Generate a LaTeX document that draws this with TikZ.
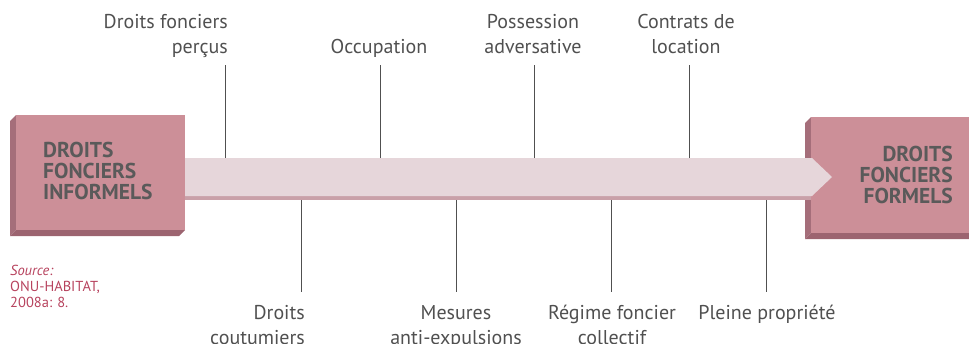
\documentclass[tikz,border=0pt]{standalone}
\usepackage{fontspec}
\setmainfont{PT Sans}
\definecolor{boxface}{HTML}{CC8F98}
\definecolor{boxside}{HTML}{A56E7A}
\definecolor{boxbottom}{HTML}{9C6470}
\definecolor{bandtop}{HTML}{E6D6DA}
\definecolor{bandlow}{HTML}{C9A0A8}
\definecolor{labelgray}{HTML}{505050}
\definecolor{boxgray}{HTML}{5A5A5A}
\definecolor{sourcered}{HTML}{B7435E}

\begin{document}
\begin{tikzpicture}[x=1pt,y=-1pt,
  lbl/.style={text=labelgray,font=\fontsize{20}{25}\selectfont,inner sep=0pt,text depth=0pt},
  boxtxt/.style={text=boxgray,font=\fontsize{21.5}{21}\selectfont\bfseries,inner sep=0pt},
  tick/.style={draw=labelgray,line width=0.9pt}]
  \useasboundingbox (0,0) rectangle (969,343);

  % left box
  \fill[boxside] (16,115) -- (10,121) -- (10,236) -- (16,230) -- cycle;
  \fill[boxbottom] (10,236) -- (179,236) -- (185,230) -- (16,230) -- cycle;
  \fill[boxface] (16,115) rectangle (185,230);
  \node[boxtxt,anchor=north west,align=left] (informels) at (43,142) {DROITS\\FONCIERS\\INFORMELS};

  % right box
  \fill[boxside] (811,117) -- (805,123) -- (805,239) -- (811,233) -- cycle;
  \fill[boxbottom] (805,239) -- (969,239) -- (969,233) -- (811,233) -- cycle;
  \fill[boxface] (811,117) rectangle (969,233);
  \node[boxtxt,anchor=north east,align=right] (formels) at (953,146) {DROITS\\FONCIERS\\FORMELS};

  % band
  \fill[bandlow] (185,196) rectangle (811,200);
  \fill[bandtop] (185,158) -- (812,158) -- (832,177) -- (812,196) -- (185,196) -- cycle;

  \coordinate (top1) at (225,158);
  \coordinate (top2) at (380,158);
  \coordinate (top3) at (534,158);
  \coordinate (top4) at (689,158);
  \coordinate (bot1) at (301,200);
  \coordinate (bot2) at (456,200);
  \coordinate (bot3) at (611,200);
  \coordinate (bot4) at (766,200);

  \node[lbl,anchor=south east,align=right] (percus) at (228,54) {Droits fonciers\\perçus};
  \node[lbl,anchor=south,align=center] (occupation) at (379,54) {Occupation};
  \node[lbl,anchor=south,align=center] (possession) at (533,54) {Possession\\adversative};
  \node[lbl,anchor=south,align=center] (contrats) at (686,54) {Contrats de\\location};

  \node[lbl,anchor=north east,align=right] (coutumiers) at (305,305) {Droits\\coutumiers};
  \node[lbl,anchor=north,align=center] (mesures) at (456,305) {Mesures\\anti-expulsions};
  \node[lbl,anchor=north,align=center] (regime) at (612,305) {Régime foncier\\collectif};
  \node[lbl,anchor=north,align=center] (pleine) at (767,305) {Pleine propriété};

  \draw[tick,shorten >=11pt] (top1) -- (top1 |- percus.south);
  \draw[tick,shorten >=11pt] (top2) -- (top2 |- occupation.south);
  \draw[tick,shorten >=11pt] (top3) -- (top3 |- possession.south);
  \draw[tick,shorten >=11pt] (top4) -- (top4 |- contrats.south);
  \draw[tick,shorten >=13pt] (bot1) -- (bot1 |- coutumiers.north);
  \draw[tick,shorten >=13pt] (bot2) -- (bot2 |- mesures.north);
  \draw[tick,shorten >=13pt] (bot3) -- (bot3 |- regime.north);
  \draw[tick,shorten >=13pt] (bot4) -- (bot4 |- pleine.north);

  % source
  \node[anchor=north west,align=left,inner sep=0pt,text=sourcered,font=\fontsize{14.5}{16}\selectfont] (source) at (10,265) {\textit{Source:}\\ONU-HABITAT,\\2008a: 8.};
\end{tikzpicture}
\end{document}
